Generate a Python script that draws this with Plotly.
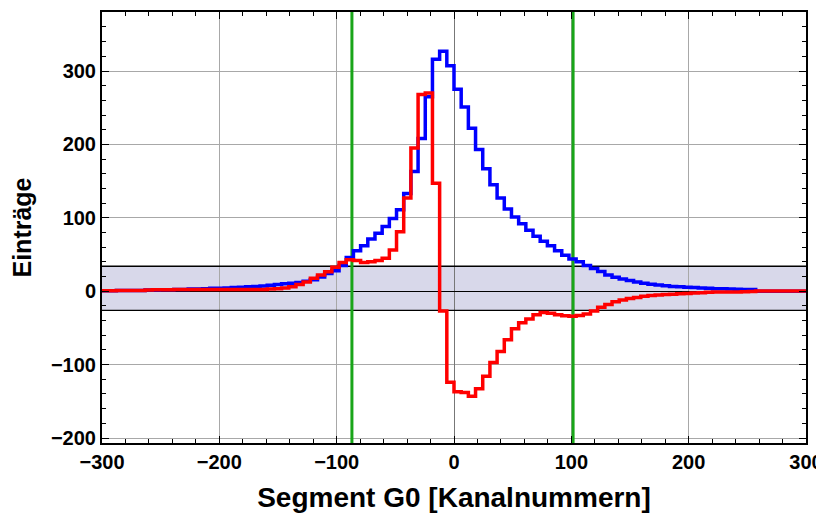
import numpy as np
import plotly.graph_objects as go

# ---- data ----
x_range = [-300, 300]
y_range = [-206.8, 380.4]

# 98 histogram bins spanning -300 .. 300 channels
blue_counts = [
    0.5, 0.5, 1, 1, 1, 1,
    1.5, 1.5, 2, 2, 2.5,
    2.5, 3, 3, 3.5, 4,
    4, 4.5, 5, 5.5,
    6, 6.5, 7, 8, 9,
    10, 11, 12, 13.5,
    15.5, 19.5, 24, 28, 35, 46, 55, 62, 71, 79,
    88, 99, 111, 133, 163, 208, 265, 316, 327, 307,
    275, 251, 222, 193, 167, 145, 127, 112, 101, 92,
    83, 75, 68, 62, 55, 49, 44, 40, 35, 31,
    27, 22, 19, 16.5, 14.5, 12.5, 11, 9.5, 8.5, 7.5,
    6.5, 6, 5.5, 5, 4.5, 4, 3.5, 3.2, 3, 2.8,
    2.5, 2.2, 0, 0, 0, 0, 0, 0, 0,
]

red_counts = [
    0.5, 0.5, 1, 1, 1, 1, 1.5,
    2, 2, 2, 2.5, 2.5, 2.5, 2.5, 2.5, 2.5, 2.5,
    2.5, 2.5, 2.5, 2.5, 2.5, 2.5, 3, 3.5,
    4.5, 6, 9, 12.7, 17.5, 22, 26.5, 32.5, 39, 43,
    42, 39, 40, 42, 45, 56, 81, 127, 195, 268,
    270, 147, -27, -124, -137, -138, -143, -133, -116, -97,
    -82, -66, -51, -43, -38, -32, -29, -30, -32, -33.5,
    -34, -33, -31, -27, -22, -18, -14.5, -12, -10, -8.5,
    -7, -6, -5, -4.5, -4, -3.5, -3, -2.5, -2, -1.5,
    -1.2, -1, -1, -1, -0.8, -0.5, 0.3, 0.3, 0.3, 0.3, 0.3, 0.3, 0.3,
]

band_limits = [-26, 34]          # shaded band (lower, upper)
cut_positions = [-87, 101.5]     # green vertical lines

x_tick_vals = [-300, -200, -100, 0, 100, 200, 300]
y_tick_vals = [-200, -100, 0, 100, 200, 300]

x_title = "Segment G0 [Kanalnummern]"
y_title = "Einträge"

# ---- figure ----
edges = np.linspace(x_range[0], x_range[1], len(blue_counts) + 1)


def step_xy(counts):
    return list(edges), list(counts) + [counts[-1]]


fig = go.Figure()

# band boundary lines
for b in band_limits:
    fig.add_trace(go.Scatter(x=x_range, y=[b, b], mode="lines",
                             line=dict(color="black", width=1.3),
                             hoverinfo="skip", showlegend=False))

# green cut lines
for c in cut_positions:
    fig.add_trace(go.Scatter(x=[c, c], y=y_range, mode="lines",
                             line=dict(color="rgb(25,165,25)", width=3),
                             hoverinfo="skip", showlegend=False))

bx, by = step_xy(blue_counts)
fig.add_trace(go.Scatter(x=bx, y=by, mode="lines", line_shape="hv",
                         line=dict(color="rgb(0,0,255)", width=3.5),
                         showlegend=False))
rx, ry = step_xy(red_counts)
fig.add_trace(go.Scatter(x=rx, y=ry, mode="lines", line_shape="hv",
                         line=dict(color="rgb(255,0,0)", width=3.5),
                         showlegend=False))

# shaded band (below grid)
fig.add_shape(type="rect", xref="paper", x0=0, x1=1, yref="y",
              y0=band_limits[0], y1=band_limits[1],
              fillcolor="rgb(216,216,234)", line=dict(width=0), layer="below")

tick_font = dict(family="Liberation Sans, Arial, sans-serif", size=20,
                 color="black", weight="bold")
x_title_font = dict(family="Liberation Sans, Arial, sans-serif", size=28,
                    color="black", weight="bold")
y_title_font = dict(family="Liberation Sans, Arial, sans-serif", size=25,
                    color="black", weight="bold")

common_axis = dict(
    ticks="inside", ticklen=7, tickwidth=1.2, tickcolor="black",
    showline=True, linecolor="black", linewidth=2, mirror="ticks",
    showgrid=True, gridcolor="#a8a8a8", gridwidth=1,
    minor=dict(dtick=20, ticks="inside", ticklen=4, tickwidth=1,
               tickcolor="black", showgrid=False),
    tickfont=tick_font, ticklabeloverflow="allow",
)

fig.update_xaxes(range=x_range, tickvals=x_tick_vals,
                 zeroline=True, zerolinecolor="#777777", zerolinewidth=1,
                 title=dict(text=x_title, font=x_title_font, standoff=16),
                 **common_axis)
fig.update_yaxes(range=y_range, tickvals=y_tick_vals,
                 zeroline=True, zerolinecolor="black", zerolinewidth=1.3,
                 title=dict(text=y_title, font=y_title_font, standoff=14),
                 **common_axis)

# page body adds an 8px offset; size/margins compensate so the plot frame
# lands at x 102..806, y 12..443 of the 824x513 window
fig.update_layout(
    width=816, height=505,
    margin=dict(l=94, r=18, t=4, b=70, autoexpand=False),
    paper_bgcolor="white", plot_bgcolor="white",
    showlegend=False,
)

fig.write_html("out.html")
